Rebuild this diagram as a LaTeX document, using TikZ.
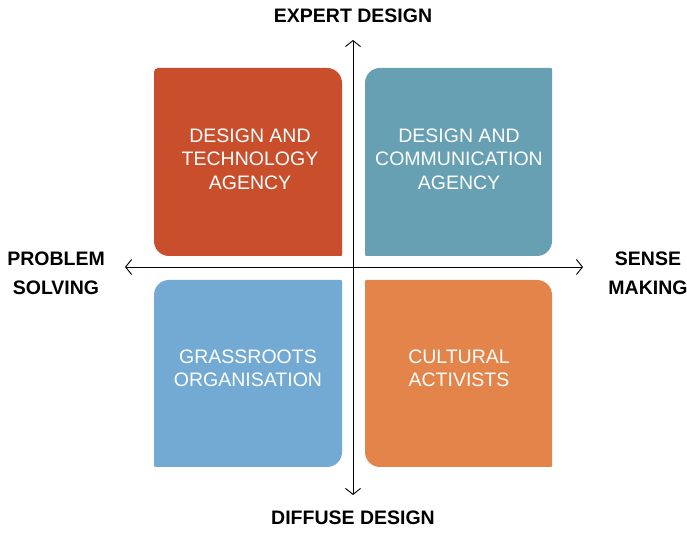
\documentclass[tikz,border=0pt]{standalone}
\usepackage{fontspec}
\setmainfont{Liberation Sans}
\usepackage{tikz}
\usetikzlibrary{positioning, calc, arrows.meta}
\definecolor{techred}{RGB}{200,78,44}
\definecolor{commteal}{RGB}{102,160,178}
\definecolor{grassblue}{RGB}{114,170,211}
\definecolor{cultorange}{RGB}{227,133,75}
% box: x, y (lower left), width, height, colour, radius tl, tr, br, bl
\newcommand{\qbox}[9] {
    \fill[#5] (#1+#9,#2) -- (#1+#3-#8,#2) arc[start angle=-90, end angle=0, radius=#8]
        -- (#1+#3,#2+#4-#7) arc[start angle=0, end angle=90, radius=#7]
        -- (#1+#6,#2+#4) arc[start angle=90, end angle=180, radius=#6]
        -- (#1,#2+#9) arc[start angle=180, end angle=270, radius=#9] -- cycle;
}
\tikzset{
    boxtext/.style={text=white, align=center, font=\fontsize{19.5}{23.3}\selectfont},
    axislabel/.style={align=center, font=\fontsize{19.5}{29}\selectfont\bfseries},
    axis/.style={<->, >={Straight Barb[length=6pt,width=15pt]}, line width=0.9pt}
}

\begin{document}
\begin{tikzpicture}[x=1pt, y=1pt]
                \useasboundingbox (0,0) rectangle (687,532);
                \qbox{154}{276}{188}{188}{techred}{4}{15}{1}{15}
                \qbox{365}{276}{187}{188}{commteal}{15}{1}{15}{1}
                \qbox{154}{65}{188}{187}{grassblue}{15}{1}{15}{1}
                \qbox{365}{65}{187}{187}{cultorange}{1}{15}{1}{15}
                \node[boxtext] (tech) at (250,373) {DESIGN AND\\TECHNOLOGY\\AGENCY};
                \node[boxtext] (comm) at (459,373) {DESIGN AND\\COMMUNICATION\\AGENCY};
                \node[boxtext] (grass) at (248,164) {GRASSROOTS\\ORGANISATION};
                \node[boxtext] (cult) at (459,164) {CULTURAL\\ACTIVISTS};
                % axes
                \coordinate (top) at (353,492);
                \coordinate (bottom) at (353,37);
                \coordinate (left) at (125,265);
                \coordinate (right) at (583,265);
                \draw[axis] (bottom) -- (top);
                \draw[axis] (left) -- (right);
                \node[axislabel] (expert) at (353,516) {EXPERT DESIGN};
                \node[axislabel] (diffuse) at (353,14) {DIFFUSE DESIGN};
                \node[axislabel] (problem) at (56,258.5) {PROBLEM\\SOLVING};
                \node[axislabel] (sense) at (648,258.5) {SENSE\\MAKING};
\end{tikzpicture}
\end{document}
